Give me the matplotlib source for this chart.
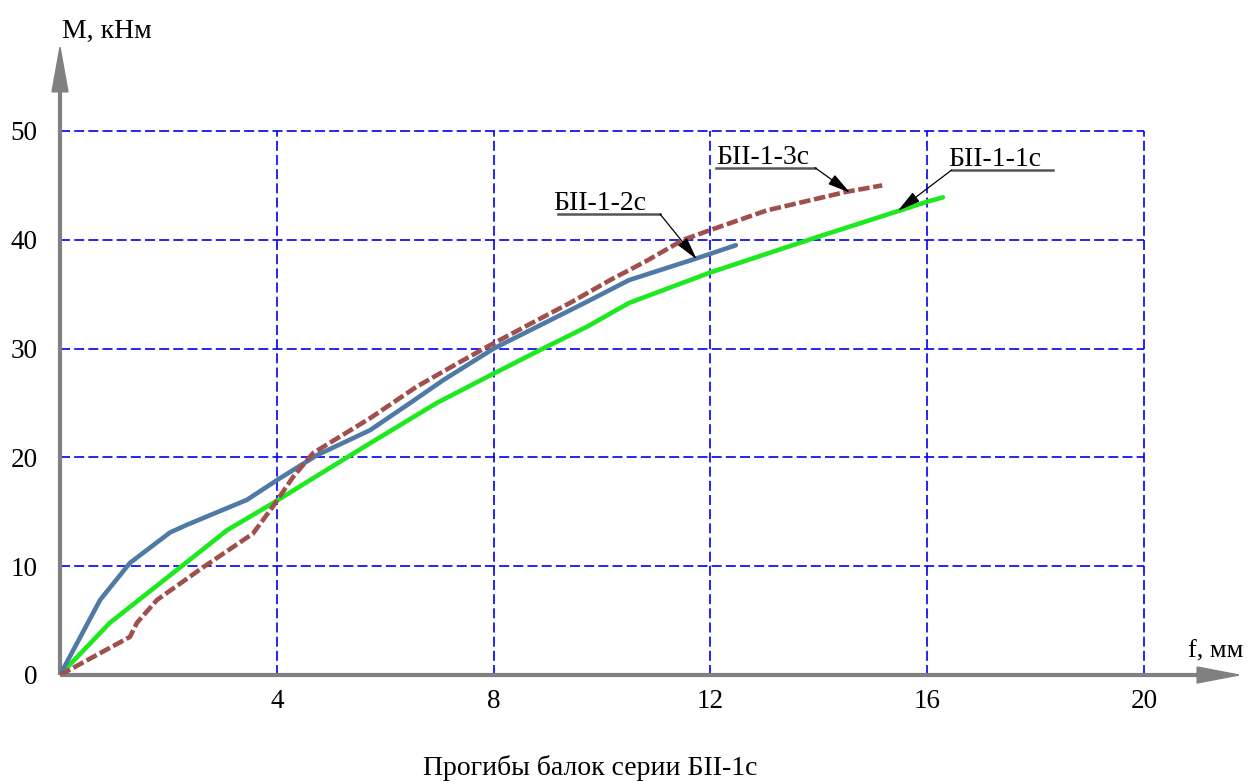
import matplotlib
matplotlib.use("Agg")
import matplotlib.pyplot as plt
from matplotlib.patches import Polygon

plt.rcParams['font.family'] = ['Liberation Serif', 'DejaVu Serif']

# ---- data (f, mm ; M, kNm) ----
f_1c = [0, 0.92, 2.27, 3.08, 3.93, 4.61, 5.72, 6.95, 8.0, 8.91, 9.72, 10.5, 12.0, 14.0, 15.5, 16.0, 16.29]
M_1c = [0, 4.8, 10.1, 13.3, 15.8, 17.9, 21.3, 25.0, 27.7, 30.0, 32.0, 34.2, 37.0, 40.3, 42.7, 43.5, 43.9]

f_2c = [0, 0.74, 1.29, 2.03, 2.34, 3.45, 4.0, 4.74, 5.72, 6.46, 7.07, 8.0, 8.8, 9.72, 10.5, 11.75, 12.47]
M_2c = [0, 6.9, 10.3, 13.1, 13.8, 16.1, 17.9, 20.2, 22.5, 25.0, 27.1, 30.0, 32.0, 34.3, 36.3, 38.3, 39.5]

f_3c = [0, 1.29, 1.42, 1.79, 2.64, 3.56, 3.93, 4.3, 4.67, 5.72, 6.58, 7.32, 7.93, 8.8, 9.41, 10.15, 10.8, 11.5, 12.0, 13.04, 14.5, 15.17]
M_3c = [0, 3.5, 4.8, 6.9, 9.9, 13.0, 15.5, 18.2, 20.4, 23.6, 26.5, 28.6, 30.3, 32.6, 34.2, 36.3, 38.0, 40.0, 40.9, 42.7, 44.4, 45.0]

x_ticks = [4, 8, 12, 16, 20]
y_ticks = [0, 10, 20, 30, 40, 50]

labels = ["БII-1-1с", "БII-1-2с", "БII-1-3с"]

W, H = 1249, 781
X0, Y0 = 60, 675
SX, SY = 54.2, 10.88
XMAX, YMAX = 21.8, 58.0

fig = plt.figure(figsize=(W / 100, H / 100), dpi=100)
ax = fig.add_axes([X0 / W, (H - Y0) / H, XMAX * SX / W, YMAX * SY / H])
ax.set_xlim(0, XMAX)
ax.set_ylim(0, YMAX)
for s in ax.spines.values():
    s.set_visible(False)

# grid
gridc = '#0000f0'
for xv in x_ticks:
    ax.plot([xv, xv], [0, 50], color=gridc, lw=1.2, dashes=(6, 2.5), zorder=1)
for yv in y_ticks[1:]:
    ax.plot([0, 20], [yv, yv], color=gridc, lw=1.2, dashes=(6, 2.5), zorder=1)

# axes with arrows
axc = '#808080'
ax.plot([0, 20.98], [0, 0], color=axc, lw=3, clip_on=False, zorder=2, solid_capstyle='butt')
ax.plot([0, 0], [0, 53.6], color=axc, lw=3, clip_on=False, zorder=2, solid_capstyle='butt')
hx = 8 / SY
ax.add_patch(Polygon([[20.98, hx], [XMAX - 0.05, 0], [20.98, -hx]], closed=True,
                     color=axc, clip_on=False, zorder=2))
hy = 8 / SX
ax.add_patch(Polygon([[-hy, 53.6], [0, YMAX - 0.3], [hy, 53.6]], closed=True,
                     color=axc, clip_on=False, zorder=2))

# data lines
ax.plot(f_1c, M_1c, color='#1ee81e', lw=3.3, zorder=3, solid_capstyle='round')
ax.plot(f_2c, M_2c, color='#4f7aa5', lw=3.3, zorder=4, solid_capstyle='round')
ax.plot(f_3c, M_3c, color='#a04f4c', lw=3.3, zorder=5, dashes=(2.5, 0.8))

# ticks
ax.set_xticks(x_ticks)
ax.set_xticklabels([str(v) for v in x_ticks], fontsize=19.5)
ax.set_yticks(y_ticks)
ax.set_yticklabels([str(v) for v in y_ticks], fontsize=19.5)
ax.tick_params(length=0)
ax.tick_params(axis='x', pad=10)
ax.tick_params(axis='y', pad=16)

# axis titles
fig.text(62 / W, 1 - 38 / H, "M, кНм", fontsize=20, ha='left', va='baseline')
fig.text(1188 / W, 1 - 657 / H, "f, мм", fontsize=19, ha='left', va='baseline')
fig.text(590 / W, 1 - 775 / H, "Прогибы балок серии БII-1с", fontsize=20, ha='center', va='baseline')


def px(xp, yp):
    return ((xp - X0) / SX, (Y0 - yp) / SY)


items = [
    (labels[2], 716, 164, 716, 815, 167.7, (850, 192.7), 'right'),
    (labels[1], 553, 210, 558, 660, 214, (696.7, 259.3), 'right'),
    (labels[0], 948, 166, 951.7, 1053, 170, (898, 210.7), 'left'),
]
for text, tx, tb, u0, u1, uy, tip, side in items:
    x, y = px(tx, tb)
    ax.text(x, y, text, fontsize=20, ha='left', va='baseline', zorder=6)
    a, yy = px(u0, uy)
    b, _ = px(u1, uy)
    ax.plot([a, b], [yy, yy], color='#555555', lw=1.8, zorder=6, clip_on=False)
    tip_d = px(*tip)
    st = (b, yy) if side == 'right' else (a, yy)
    ax.annotate("", xy=tip_d, xytext=st,
                arrowprops=dict(arrowstyle='-|>,head_length=1.0,head_width=0.25',
                                color='black', lw=0.9, shrinkA=0, shrinkB=0,
                                mutation_scale=14), zorder=7)

fig.savefig("out.png", dpi=100)
